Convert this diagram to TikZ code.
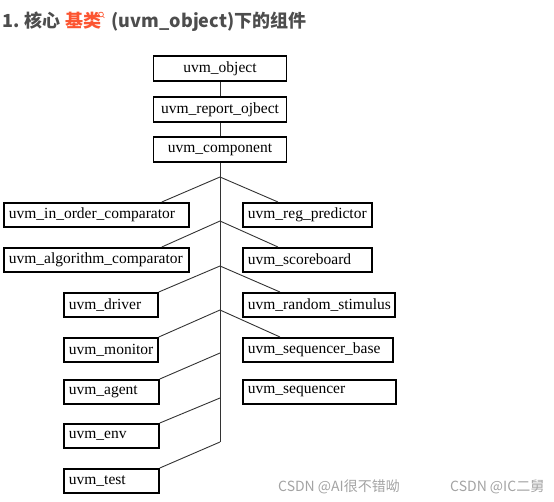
\documentclass[tikz,border=0pt]{standalone}
\usepackage{fontspec}
\setmainfont{Liberation Serif}
\newfontfamily\cjk{Noto Sans CJK SC}
\usetikzlibrary{positioning}
\definecolor{titlegray}{HTML}{4D4D4D}
\definecolor{linkred}{HTML}{FC5531}
\definecolor{wmgray}{HTML}{A3A3A3}

\begin{document}
\begin{tikzpicture}[x=1pt,y=-1pt,
    box/.style={shape=rectangle,draw=black,line width=1.8pt,inner sep=0pt,
      minimum width=133pt,minimum height=25pt,font=\fontsize{15.5}{18}\selectfont},
    leaf/.style={box,anchor=north west,align=left,inner xsep=5pt,minimum width=0pt,minimum height=24pt},
    link/.style={draw=black!80,line width=0.9pt},
    title/.style={inner sep=0pt,font=\cjk\bfseries\fontsize{18}{22}\selectfont},
    wmark/.style={inner sep=0pt,text=wmgray,font=\cjk\fontsize{14}{16}\selectfont}]
  \useasboundingbox (0,0) rectangle (554,501);

  % heading
  \node[title,text=titlegray,anchor=base west] (t1) at (2,27) {1. 核心};
  \node[title,text=linkred,base right=4pt of t1] (t2) {基类};
  \node[title,text=titlegray,base right=10pt of t2] (t3) {(uvm\_object)下的组件};
  \draw[linkred,line width=0.7pt] (101,14.5) circle (2.4pt) (102.8,16.3) -- (104.4,17.9);

  % base classes
  \node[box] (obj) at (220,68.5) {uvm\_object};
  \node[box] (rep) at (220,109.5) {uvm\_report\_ojbect};
  \node[box] (comp) at (220,149.5) {uvm\_component};

  % components
  \node[leaf,text width=175pt] (inorder) at (3,202) {uvm\_in\_order\_comparator};
  \node[leaf,text width=119pt] (regpred) at (242,202) {uvm\_reg\_predictor};
  \node[leaf,text width=175pt] (algo) at (3,247) {uvm\_algorithm\_comparator};
  \node[leaf,text width=119pt] (score) at (242,247) {uvm\_scoreboard};
  \node[leaf,text width=84pt] (driver) at (63,292) {uvm\_driver};
  \node[leaf,text width=142pt] (random) at (242,292) {uvm\_random\_stimulus};
  \node[leaf,text width=84pt] (monitor) at (63,337) {uvm\_monitor};
  \node[leaf,text width=140pt] (seqbase) at (242,337) {uvm\_sequencer\_base};
  \node[leaf,text width=85pt] (agent) at (63,379) {uvm\_agent};
  \node[leaf,text width=143pt] (seqr) at (242,379) {uvm\_sequencer};
  \node[leaf,text width=85pt] (env) at (63,423) {uvm\_env};
  \node[leaf,text width=85pt] (test) at (63,468) {uvm\_test};

  % trunk and forks
  \coordinate (f1) at (220,177);
  \coordinate (f2) at (220,221);
  \coordinate (f3) at (220,266);
  \coordinate (f4) at (220,310);
  \coordinate (f5) at (220,353);
  \coordinate (f6) at (220,398);
  \coordinate (f7) at (220,442);

  \draw[link] (obj) -- (rep);
  \draw[link] (rep) -- (comp);
  \draw[link] (comp) -- (f7);
  \draw[link] (f1) -- ([xshift=-28pt]inorder.north east);
  \draw[link] (f1) -- ([xshift=36pt]regpred.north west);
  \draw[link] (f2) -- ([xshift=-28pt]algo.north east);
  \draw[link] (f2) -- ([xshift=36pt]score.north west);
  \draw[link] (f3) -- (driver.north east);
  \draw[link] (f3) -- ([xshift=38pt]random.north west);
  \draw[link] (f4) -- (monitor.north east);
  \draw[link] (f4) -- ([xshift=38pt]seqbase.north west);
  \draw[link] (f5) -- (agent.north east);
  \draw[link] (f6) -- (env.north east);
  \draw[link] (f7) -- (test.north east);

  % watermarks
  \node[wmark,anchor=base west] (wm1) at (278,491) {CSDN @AI很不错呦};
  \node[wmark,anchor=base west] (wm2) at (450,491) {CSDN @IC二舅};
\end{tikzpicture}
\end{document}
